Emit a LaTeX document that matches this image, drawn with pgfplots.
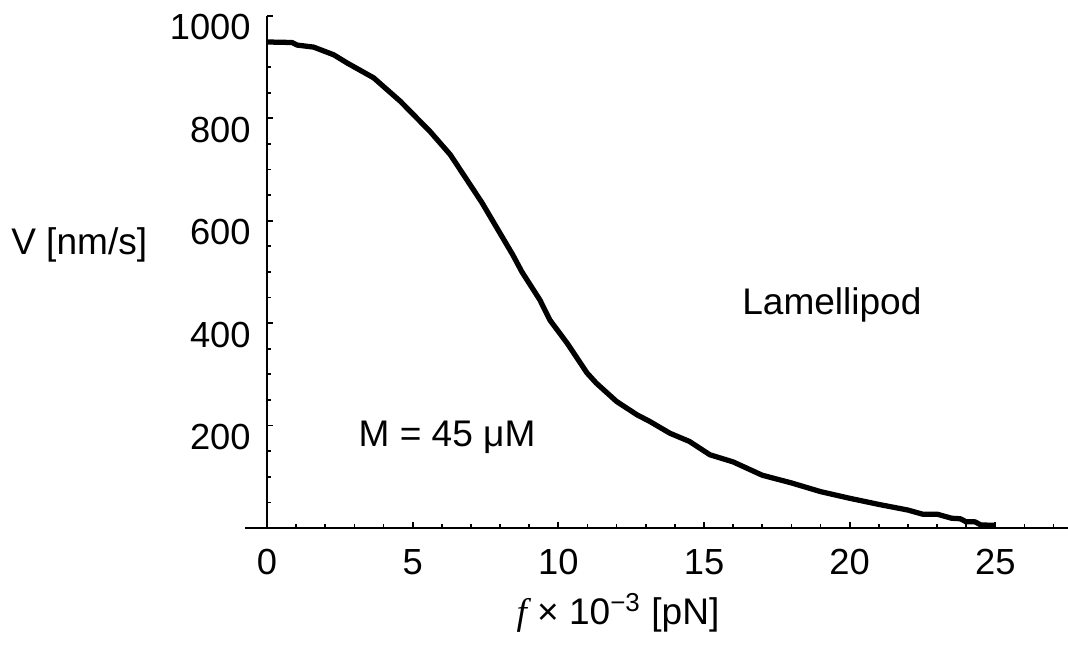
\documentclass[border=0pt]{standalone}
\usepackage{pgfplots}
\pgfplotsset{compat=1.18}
\usetikzlibrary{calc}
\usepackage{fontspec}
\setmainfont{Liberation Sans}
\newfontfamily\serifit{Liberation Serif}
\begin{document}
\fontsize{14.8}{17}\selectfont
\begin{tikzpicture}
\begin{axis}[
    scale only axis,
    width=11.555cm, height=7.19cm,
    axis lines=middle,
    axis line style={-, line width=0.9pt},
    xmin=-0.75, xmax=27.5,
    ymin=0, ymax=1000,
    xtick={0,5,10,15,20,25},
    minor xtick={1,2,3,4,6,7,8,9,11,12,13,14,16,17,18,19,21,22,23,24,26,27},
    ytick={200,400,600,800,1000},
    minor ytick={50,100,150,250,300,350,450,500,550,650,700,750,850,900,950},
    hide obscured x ticks=false,
    hide obscured y ticks=false,
    tick align=inside,
    major tick length=0.08cm,
    minor tick length=0.05cm,
    tick style={line width=0.7pt, black},
    tick label style={font=\fontsize{14.5}{17}\selectfont},
    /pgf/number format/assume math mode=true,
    /pgf/number format/1000 sep={},
    xticklabel style={yshift=-0.12cm},
    yticklabel style={xshift=-0.05cm, yshift=-0.16cm},
    xlabel={{\serifit\itshape f} × 10\textsuperscript{−3} [pN]},
    xlabel style={at={(axis description cs:0.453,0)}, anchor=center, yshift=-1.19cm},
    ylabel={V [nm/s]},
    ylabel style={at={(axis description cs:0,0.553)}, anchor=center, rotate=0, xshift=-2.33cm},
    clip=false,
]
\addplot[black, line width=2.1pt, line join=round] coordinates {
    (0,949) (0.86,948) (1.03,943) (1.6,939) (2.29,924) (2.75,908)
    (3.66,879) (4.58,833) (5.6,774) (6.29,729) (7.37,636) (8.44,533)
    (8.75,500) (9.37,445) (9.71,406) (10.3,361) (10.98,303) (11.3,283)
    (12.0,247) (12.7,221) (13.14,208) (13.83,185) (14.5,169) (15.2,143)
    (16,129) (17,103) (18,88) (19,71) (20,58) (21,46) (22,35)
    (22.5,27) (23,27) (23.5,19) (23.8,18) (24,12) (24.3,12) (24.5,6) (25,5)
};
\node at (axis cs:19.39,435) {Lamellipod};
\node at (axis cs:6.18,178) {M = 45 μM};
\coordinate (O) at (axis cs:0,0);
\end{axis}
\pgfresetboundingbox
\useasboundingbox ($(O)+(-3.749,-1.657)$) rectangle ($(O)+(11.246,7.413)$);
\end{tikzpicture}
\end{document}
